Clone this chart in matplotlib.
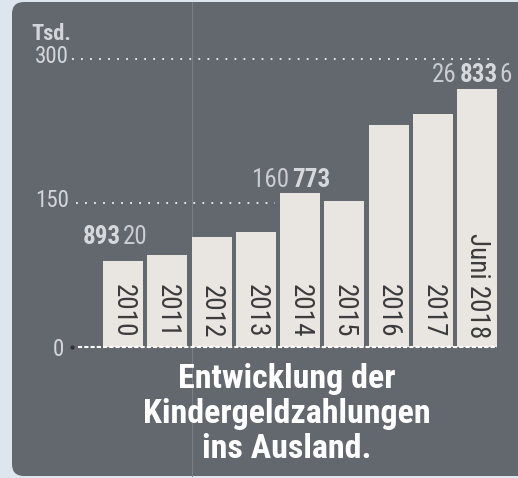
import matplotlib
matplotlib.use("Agg")
import matplotlib.pyplot as plt
from matplotlib.patches import FancyBboxPatch
from matplotlib.lines import Line2D

# data (Tsd.)
years = ["2010", "2011", "2012", "2013", "2014", "2015", "2016", "2017", "Juni 2018"]
values = [89.320, 96.0, 114.6, 119.8, 160.773, 152.0, 231.0, 243.0, 268.336]
yticks = [0, 150, 300]
ytick_labels = ["0", "150", "300"]
unit_label = "Tsd."
# value labels: bar index, (regular prefix, bold part, regular suffix)
label_idx = [0, 4, 8]
label_parts = [("", "893", "20"), ("160", "773", ""), ("26", "833", "6")]
title_lines = ["Entwicklung der", "Kindergeldzahlungen", "ins Ausland."]

plt.rcParams["font.family"] = ["Roboto Condensed", "DejaVu Sans"]
plt.rcParams["font.stretch"] = "condensed"

W, H = 518, 478
fig = plt.figure(figsize=(W / 100, H / 100), dpi=100)
fig.patch.set_facecolor("#dde6ee")

# dark rounded panel (runs off the right edge)
panel = FancyBboxPatch((0.12, 0.02), 5.4, 4.74,
                       boxstyle="round,pad=0,rounding_size=0.12",
                       transform=fig.dpi_scale_trans, facecolor="#63676e",
                       edgecolor="none", zorder=0)
fig.patches.append(panel)
fig.lines.append(Line2D([192 / W, 192 / W], [2 / H, 476 / H], transform=fig.transFigure,
                        color="#7b7f86", lw=0.7, zorder=1))

# axes spanning the whole figure, pixel-matched scales
x0, dx = 123, 44.25      # px of first bar centre, px per bar
base, sy = 347, 0.96     # px of zero line from top, px per unit
ax = fig.add_axes([0, 0, 1, 1])
ax.set_zorder(2)
ax.set_facecolor("none")
ax.set_xlim(-x0 / dx, (W - x0) / dx)
ax.set_ylim(-(H - base) / sy, base / sy)
ax.axis("off")

def px(x):
    return (x - x0) / dx

xs = list(range(len(years)))
ax.bar(xs, values, width=40 / dx, color="#e9e6e1", zorder=3)

# dotted grid lines
ax.plot([px(72), px(493)], [300, 300], color="#f2f2f2", lw=1.3,
        linestyle=(0, (1, 4)), zorder=2)
ax.plot([px(76), px(275)], [150, 150], color="#f2f2f2", lw=1.3,
        linestyle=(0, (1, 4)), zorder=2)
ax.plot([px(72)], [0], marker="o", ms=2, color="#2e3035", zorder=4)
ax.plot([px(78), px(497)], [0, 0], color="#ffffff", lw=1.5,
        linestyle=(0, (2, 1)), zorder=4)

# y tick labels
tick_txt = {}
for v, lab in zip(yticks, ytick_labels):
    xr = px(64) if v == 0 else px(69)
    tick_txt[v] = ax.text(xr, v - (3 if v == 0 else -3), lab, ha="right", va="center",
                          fontsize=16.5, color="#d3d6d9")
ax.annotate(unit_label, xy=(1, 1), xycoords=tick_txt[300], xytext=(1.5, 0),
            textcoords="offset points", ha="right", va="bottom",
            fontsize=16, fontweight="bold", color="#d3d6d9")

# year labels inside the bars
for x, y in zip(xs, years):
    ax.text(x, 9.5, y, rotation=270, ha="center", va="bottom",
            fontsize=19.5, color="#3b3b3d", zorder=5)

# value labels with bold middle part
label_dx = [-21, 11, 2]   # px from bar centre
label_dy = [17, 6, 7]     # px above bar top
for i, (pre, bold, post), ddx, ddy in zip(label_idx, label_parts, label_dx, label_dy):
    t = ax.annotate(bold, xy=(i, values[i]), xytext=(ddx * 0.72, ddy * 0.72),
                    textcoords="offset points", ha="center", va="baseline",
                    fontsize=18, fontweight="bold", color="#d6d9dc")
    if pre:
        ax.annotate(pre, xy=(0, 0), xycoords=t, xytext=(-2, 0),
                    textcoords="offset points", ha="right", va="bottom",
                    fontsize=18, color="#c9cdd1")
    if post:
        ax.annotate(post, xy=(1, 0), xycoords=t, xytext=(1, 0),
                    textcoords="offset points", ha="left", va="bottom",
                    fontsize=18, color="#c9cdd1")

# title
for line, yb in zip(title_lines, [388, 423, 458]):
    fig.text(287 / W, 1 - yb / H, line, ha="center", va="baseline",
             fontsize=24.5, fontweight="bold", color="#ffffff")

fig.savefig("out.png", dpi=100, facecolor=fig.get_facecolor())
